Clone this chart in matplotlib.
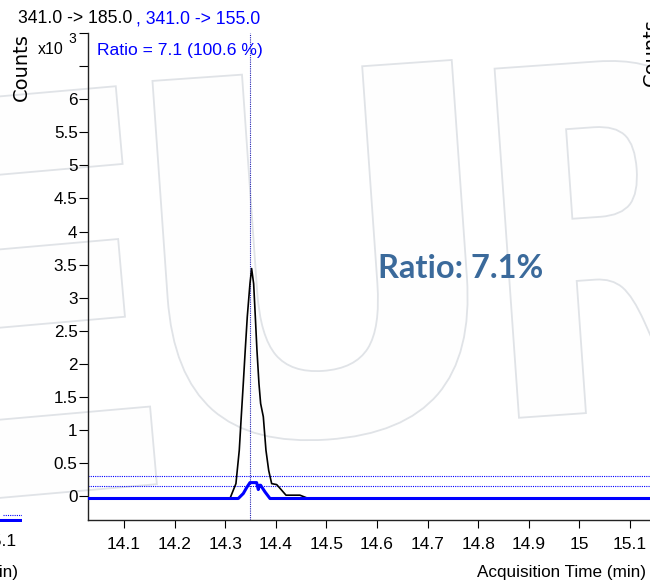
import matplotlib
matplotlib.use('Agg')
import matplotlib.pyplot as plt
from matplotlib.textpath import TextPath
from matplotlib.font_manager import FontProperties
from matplotlib.patches import PathPatch
from matplotlib.transforms import Affine2D

# quantifier 341.0 -> 185.0 (black), values in x10^3 counts
time_185 = [14.03, 14.3095, 14.3213, 14.3279, 14.3318, 14.3358, 14.3397, 14.3437,
            14.349, 14.3523, 14.3563, 14.3596, 14.3628, 14.3668, 14.3701, 14.3754,
            14.3806, 14.386, 14.3919, 14.4018, 14.4117, 14.4202, 14.4478, 14.4643, 15.175]
counts_185 = [-0.035, -0.035, 0.19, 0.695, 1.2, 1.7, 2.21, 2.71,
              3.21, 3.44, 3.21, 2.71, 2.21, 1.7, 1.4, 1.2,
              0.695, 0.39, 0.19, 0.175, 0.09, 0.015, 0.015, -0.035, -0.035]

# qualifier 341.0 -> 155.0 (blue)
time_155 = [14.03, 14.3259, 14.3358, 14.3425, 14.349, 14.3622, 14.3655, 14.3674,
            14.3701, 14.3787, 14.3886, 15.175]
counts_155 = [-0.035, -0.035, 0.04, 0.13, 0.205, 0.205, 0.10, 0.165,
              0.165, 0.065, -0.035, -0.035]

ratio_limits = [0.15, 0.30]
peak_rt = 14.349
x_ticks = [14.1, 14.2, 14.3, 14.4, 14.5, 14.6, 14.7, 14.8, 14.9, 15.0, 15.1]
y_ticks = [0, 0.5, 1, 1.5, 2, 2.5, 3, 3.5, 4, 4.5, 5, 5.5, 6, 6.5, 7]

# fragment of the neighbouring panel on the left
prev_time = [0.0, 1.0]
prev_counts = [0.0, 0.0]
prev_limit = 0.3

W, H = 650, 585
SANS = ['Liberation Sans', 'DejaVu Sans']
BLUE = '#0000ff'

fig = plt.figure(figsize=(W / 100, H / 100), dpi=100)
fig.patch.set_facecolor('white')


def px(x, y):
    return x / W, 1 - y / H


# faint "EUR" watermark behind the chart
def letter(ch, cx, cy, w, h, angle):
    tp = TextPath((0, 0), ch, size=100,
                  prop=FontProperties(family='DejaVu Sans', weight='bold'))
    ext = tp.get_extents()
    tr = (Affine2D().translate(-(ext.x0 + ext.x1) / 2, -(ext.y0 + ext.y1) / 2)
          .scale(w / ext.width, h / ext.height).rotate_deg(angle)
          .translate(cx, H - cy))
    patch = PathPatch(tr.transform_path(tp),
                      transform=Affine2D().scale(1 / W, 1 / H) + fig.transFigure,
                      facecolor='#fefefe', edgecolor='#e0e3e7', lw=1.3, zorder=0)
    fig.add_artist(patch)


letter('E', -10, 298, 300, 400, 5)
letter('U', 315, 255, 300, 370, 4)
letter('R', 624, 235, 235, 350, 4)

ax = fig.add_axes([88 / W, (H - 520) / H, 580 / W, (520 - 33) / H])
ax.set_facecolor('none')
ax.set_xlim(14.029, 15.175)
ax.set_ylim(-0.36, 7.0)

ax.plot(time_185, counts_185, color='black', lw=1.2, zorder=3)
ax.plot(time_155, counts_155, color=BLUE, lw=2.2, zorder=4)
for lim in ratio_limits:
    ax.axhline(lim, color=BLUE, ls=(0, (1, 1)), lw=0.8, zorder=2)
ax.axvline(peak_rt, color='#2020b0', ls=(0, (1, 1)), lw=0.8, zorder=2)

ax.spines['top'].set_visible(False)
ax.spines['right'].set_visible(False)
for s in ['left', 'bottom']:
    ax.spines[s].set_linewidth(1.0)
    ax.spines[s].set_color('#222222')

ax.set_xticks(x_ticks)
ax.set_xticklabels(['%g' % v for v in x_ticks], fontfamily=SANS, fontsize=12.5)
ax.set_yticks(y_ticks)
ax.set_yticklabels(['%g' % v if v <= 6 else '' for v in y_ticks],
                   fontfamily=SANS, fontsize=12.3)
ax.tick_params(axis='x', direction='out', length=5.8, width=0.8, pad=6.5)
ax.tick_params(axis='y', direction='out', length=6.5, width=0.8, pad=1)

# texts
fig.text(*px(18, 23), '341.0 -> 185.0', fontfamily=SANS, fontsize=12.7,
         color='black', va='baseline')
fig.text(*px(136, 23), ', 341.0 -> 155.0', fontfamily=SANS, fontsize=12.7,
         color=BLUE, va='baseline')
fig.text(*px(97, 55), 'Ratio = 7.1 (100.6 %)', fontfamily=SANS, fontsize=12.6,
         color=BLUE, va='baseline')
fig.text(*px(38, 54), 'x10', fontfamily=SANS, fontsize=11.5, va='baseline')
fig.text(*px(68, 43), '3', fontfamily=SANS, fontsize=10, va='baseline')
fig.text(*px(21, 67), 'Counts', fontfamily='DejaVu Sans', fontsize=14,
         rotation=90, ha='center', va='center')
fig.text(*px(651, 52), 'Counts', fontfamily='DejaVu Sans', fontsize=14,
         rotation=90, ha='center', va='center')
fig.text(*px(646, 572), 'Acquisition Time (min)', fontfamily=SANS,
         fontsize=12.3, ha='right', va='center')
fig.text(*px(18, 572), 'Acquisition Time (min)', fontfamily=SANS,
         fontsize=12.3, ha='right', va='center')
fig.text(*px(17, 542), '15.1', fontfamily=SANS, fontsize=12.5,
         ha='right', va='center')

fig.text(*px(378, 278), 'Ratio: 7.1%', fontfamily='Lato', fontweight='bold',
         fontsize=23.5, color='#3b6a9b', va='baseline')

# neighbouring panel fragment
axp = fig.add_axes([-0.2, (H - 522) / H, 0.2 + 22 / W, 20 / H])
axp.set_xlim(0, 1)
axp.set_ylim(-0.1, 1)
axp.axis('off')
axp.plot(prev_time, prev_counts, color=BLUE, lw=2.2)
axp.axhline(prev_limit, color=BLUE, ls=(0, (1, 1)), lw=0.8, xmin=0.875)

fig.savefig('out.png', dpi=100, facecolor='white')
